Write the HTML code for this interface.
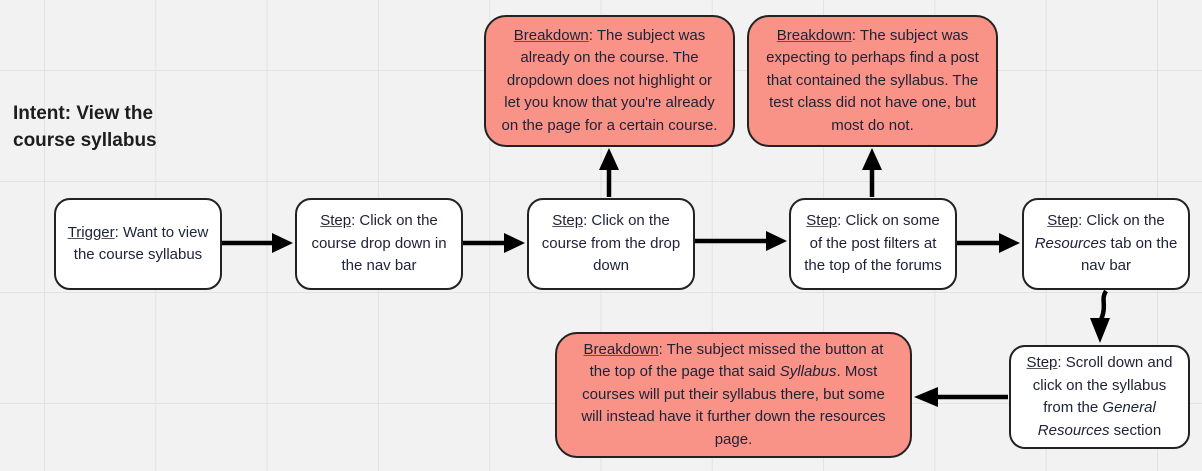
<!DOCTYPE html>
<html><head><meta charset="utf-8"><style>
body{margin:0;width:1202px;height:471px;overflow:hidden;background:#f2f2f2;font-family:"Liberation Sans",sans-serif;position:relative;
background-image:linear-gradient(to right,#e2e2e2 1px,transparent 1px),linear-gradient(to bottom,#e2e2e2 1px,transparent 1px);
background-size:111.3px 111px;background-position:44px 70px;}
.b{position:absolute;box-sizing:border-box;border:2.5px solid #222;border-radius:16px;background:#fff;display:flex;align-items:center;justify-content:center;text-align:center;color:#1d2237;font-size:15px;line-height:22.5px;white-space:nowrap}
.r{background:#f99387;border-radius:22px}
u{text-decoration-color:#555}
svg{position:absolute;left:0;top:0}
.t{position:absolute;left:13px;top:100px;font-weight:bold;font-size:19px;line-height:27px;color:#1d1d1d}
</style></head><body>
<div class="t">Intent: View the<br>course syllabus</div>
<svg width="1202" height="471">
<g stroke="#000" stroke-width="4.5" fill="none">
<line x1="222" y1="243" x2="275" y2="243"/>
<line x1="463" y1="243" x2="507" y2="243"/>
<line x1="695" y1="241" x2="769" y2="241"/>
<line x1="957" y1="243" x2="1002" y2="243"/>
<line x1="609" y1="197" x2="609" y2="170"/>
<line x1="872" y1="197" x2="872" y2="170"/>
<path d="M1106 291 C1100 300,1108 305,1100 322"/>
<line x1="1008" y1="397" x2="938" y2="397"/>
</g>
<g fill="#000">
<polygon points="293,243 272,233 272,253"/>
<polygon points="525,243 504,233 504,253"/>
<polygon points="787,241 766,231 766,251"/>
<polygon points="1020,243 999,233 999,253"/>
<polygon points="609,148 599,170 619,170"/>
<polygon points="872,148 862,170 882,170"/>
<polygon points="1100,343 1090,318 1110,318"/>
<polygon points="914,397 938,387 938,407"/>
</g></svg>
<div class="b" style="left:54px;top:198px;width:168px;height:92px"><div><u>Trigger</u>: Want to view<br>the course syllabus</div></div>
<div class="b" style="left:295px;top:198px;width:168px;height:92px"><div><u>Step</u>: Click on the<br>course drop down in<br>the nav bar</div></div>
<div class="b" style="left:527px;top:198px;width:168px;height:92px"><div><u>Step</u>: Click on the<br>course from the drop<br>down</div></div>
<div class="b" style="left:789px;top:198px;width:168px;height:92px"><div><u>Step</u>: Click on some<br>of the post filters at<br>the top of the forums</div></div>
<div class="b" style="left:1022px;top:198px;width:168px;height:92px"><div><u>Step</u>: Click on the<br><i>Resources</i> tab on the<br>nav bar</div></div>
<div class="b" style="left:1009px;top:345px;width:181px;height:104px"><div><u>Step</u>: Scroll down and<br>click on the syllabus<br>from the <i>General</i><br><i>Resources</i> section</div></div>
<div class="b r" style="left:484px;top:15px;width:251px;height:132px"><div><u>Breakdown</u>: The subject was<br>already on the course. The<br>dropdown does not highlight or<br>let you know that you're already<br>on the page for a certain course.</div></div>
<div class="b r" style="left:747px;top:15px;width:251px;height:132px"><div><u>Breakdown</u>: The subject was<br>expecting to perhaps find a post<br>that contained the syllabus. The<br>test class did not have one, but<br>most do not.</div></div>
<div class="b r" style="left:555px;top:332px;width:357px;height:126px"><div><u>Breakdown</u>: The subject missed the button at<br>the top of the page that said <i>Syllabus</i>. Most<br>courses will put their syllabus there, but some<br>will instead have it further down the resources<br>page.</div></div>
</body></html>
